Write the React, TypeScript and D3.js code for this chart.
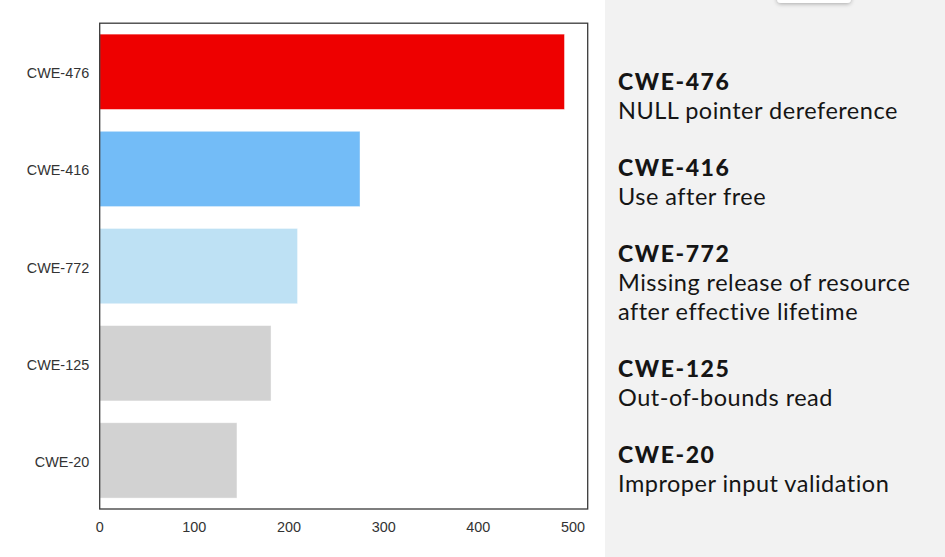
import React from "react";
import * as d3 from "d3";

const categories = ["CWE-476", "CWE-416", "CWE-772", "CWE-125", "CWE-20"];
const counts = [491, 275, 209, 181, 145];
const barColors = ["#ee0000", "#73bcf7", "#bee1f4", "#d2d2d2", "#d2d2d2"];
const xTicks = [0, 100, 200, 300, 400, 500];
const legendTitles = ["CWE-476", "CWE-416", "CWE-772", "CWE-125", "CWE-20"];
const legendDescriptions = [
  ["NULL pointer dereference"],
  ["Use after free"],
  ["Missing release of resource", "after effective lifetime"],
  ["Out-of-bounds read"],
  ["Improper input validation"],
];

const W = 945;
const H = 557;
const plot = { left: 99.7, right: 587.7, top: 23.2, bottom: 509 };

export default function App() {
  const maxV = d3.max(counts) as number;
  const x = d3.scaleLinear().domain([0, maxV * 1.05]).range([plot.left, plot.right]);
  const y = d3
    .scaleBand<string>()
    .domain(categories)
    .range([plot.top, plot.bottom])
    .paddingInner(0.225)
    .paddingOuter(0.1125);

  const axisFont = "'Liberation Sans', Arial, sans-serif";
  const legendFont = "Lato, 'Noto Sans', sans-serif";

  // legend layout
  const lineH = 29;
  const blockGap = 28;
  let cursor = 90;
  const legendBlocks = legendTitles.map((t, i) => {
    const titleY = cursor;
    const descYs = legendDescriptions[i].map((_, j) => titleY + lineH * (j + 1));
    cursor = descYs[descYs.length - 1] + lineH + blockGap;
    return { t, titleY, descYs, lines: legendDescriptions[i] };
  });

  return (
    <svg
      width={W}
      height={H}
      style={{ position: "absolute", left: 0, top: 0, display: "block" }}
      xmlns="http://www.w3.org/2000/svg"
    >
      <defs>
        <filter id="shadow" x="-30%" y="-100%" width="160%" height="300%">
          <feDropShadow dx="0" dy="1" stdDeviation="2" floodColor="#000" floodOpacity="0.3" />
        </filter>
      </defs>
      <rect x={0} y={0} width={W} height={H} fill="#ffffff" />
      {/* right panel */}
      <rect x={605} y={0} width={W - 605} height={H} fill="#f2f2f2" />
      <rect x={777} y={-10} width={74} height={13} rx={4} fill="#ffffff" filter="url(#shadow)" />

      {/* bars */}
      {categories.map((c, i) => (
        <rect
          key={c}
          x={x(0)}
          y={y(c)}
          width={x(counts[i]) - x(0)}
          height={y.bandwidth()}
          fill={barColors[i]}
          stroke="#ffffff"
          strokeOpacity={0.5}
          strokeWidth={0.8}
        />
      ))}

      {/* frame */}
      <rect
        x={plot.left}
        y={plot.top}
        width={plot.right - plot.left}
        height={plot.bottom - plot.top}
        fill="none"
        stroke="#3a3a3a"
        strokeWidth={1.3}
      />

      {/* y labels */}
      {categories.map((c) => (
        <text
          key={c}
          x={plot.left - 10.5}
          y={(y(c) as number) + y.bandwidth() / 2}
          dy="0.45em"
          textAnchor="end"
          fontFamily={axisFont}
          fontSize={14.4}
          fill="#333333"
        >
          {c}
        </text>
      ))}

      {/* x tick labels */}
      {xTicks.map((t) => (
        <text
          key={t}
          x={x(t)}
          y={531.5}
          textAnchor="middle"
          fontFamily={axisFont}
          fontSize={14.4}
          fill="#333333"
        >
          {t}
        </text>
      ))}

      {/* legend text */}
      {legendBlocks.map((b) => (
        <g key={b.t}>
          <text x={618} y={b.titleY} fontFamily={legendFont} fontWeight={900} fontSize={23} fill="#151515" letterSpacing={1.6}>
            {b.t}
          </text>
          {b.lines.map((l, j) => (
            <text key={j} x={618} y={b.descYs[j]} fontFamily={legendFont} fontSize={23.5} fill="#151515" letterSpacing={0.5}>
              {l}
            </text>
          ))}
        </g>
      ))}
    </svg>
  );
}
